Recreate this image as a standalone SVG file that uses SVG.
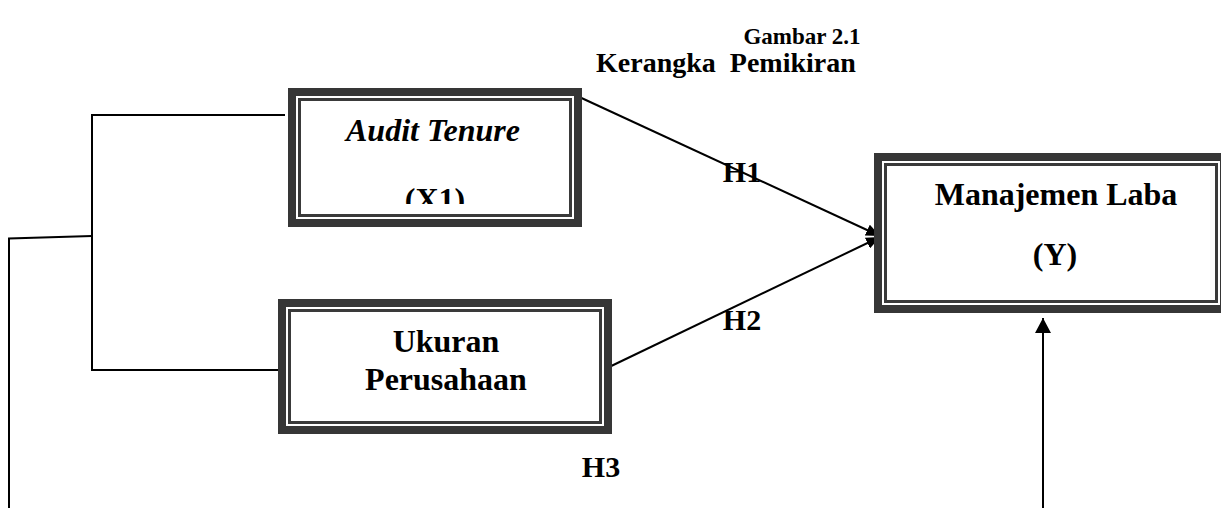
<svg xmlns="http://www.w3.org/2000/svg" width="1221" height="508" viewBox="0 0 1221 508">
<style>
.t{font-family:"Liberation Serif","Times New Roman",serif;font-weight:bold;fill:#000}
.title{font-size:28px}
.sub{font-size:23px;text-anchor:middle}
.lbl{font-size:32px;text-anchor:middle}
.h{font-size:30px;text-anchor:middle}
.outer{fill:#363636}
.gap{fill:#fff}
.inner{fill:#fff;stroke:#3a3a3a;stroke-width:3}
.ln{stroke:#000;stroke-width:2;fill:none}
</style>
<defs>
<marker id="ah" viewBox="0 0 14 12" refX="14" refY="6" markerWidth="14" markerHeight="12" markerUnits="userSpaceOnUse" orient="auto">
<path d="M0,0 L14,6 L0,12 Z" fill="#000"/>
</marker>
<marker id="ahUp" viewBox="0 0 15 16" refX="15" refY="8" markerWidth="15" markerHeight="16" markerUnits="userSpaceOnUse" orient="auto">
<path d="M0,0 L15,8 L0,16 Z" fill="#000"/>
</marker>
<clipPath id="clipX1"><rect x="296" y="96" width="278" height="108"/></clipPath>
</defs>
<g id="title">
<text class="t sub" x="802" y="44">Gambar 2.1</text>
<text class="t title" x="596" y="72" xml:space="preserve">Kerangka  Pemikiran</text>
</g>
<g id="connectors">
<polyline class="ln" points="285,115 92,115 92,370 285,370"/>
<polyline class="ln" points="92,236 9,238.5 9,508"/>
<line class="ln" x1="575" y1="95" x2="880" y2="236" marker-end="url(#ah)"/>
<line class="ln" x1="605" y1="369" x2="880" y2="237" marker-end="url(#ah)"/>
<line class="ln" x1="1043" y1="508" x2="1043" y2="318" marker-end="url(#ahUp)"/>
</g>
<g id="node-audit-tenure">
<rect class="outer" x="288" y="88" width="294" height="139"/>
<rect class="gap" x="296" y="96" width="278" height="123"/>
<rect class="inner" x="299.5" y="99.5" width="271" height="116"/>
<text class="t lbl" x="433" y="141" font-style="italic">Audit Tenure</text>
<text class="t lbl" x="435" y="210" clip-path="url(#clipX1)">(X1)</text>
</g>
<g id="node-ukuran-perusahaan">
<rect class="outer" x="278" y="299" width="334" height="135"/>
<rect class="gap" x="286" y="307" width="318" height="119"/>
<rect class="inner" x="289.5" y="310.5" width="311" height="112"/>
<text class="t lbl" x="446" y="352">Ukuran</text>
<text class="t lbl" x="446" y="390">Perusahaan</text>
</g>
<g id="node-manajemen-laba">
<rect class="outer" x="874" y="153" width="354" height="160"/>
<rect class="gap" x="882" y="161" width="338" height="144"/>
<rect class="inner" x="885.5" y="164.5" width="331" height="137"/>
<text class="t lbl" x="1056" y="205">Manajemen Laba</text>
<text class="t lbl" x="1055" y="265">(Y)</text>
</g>
<g id="labels">
<text class="t h" x="742" y="182">H1</text>
<text class="t h" x="742" y="330">H2</text>
<text class="t h" x="601" y="477">H3</text>
</g>
</svg>
